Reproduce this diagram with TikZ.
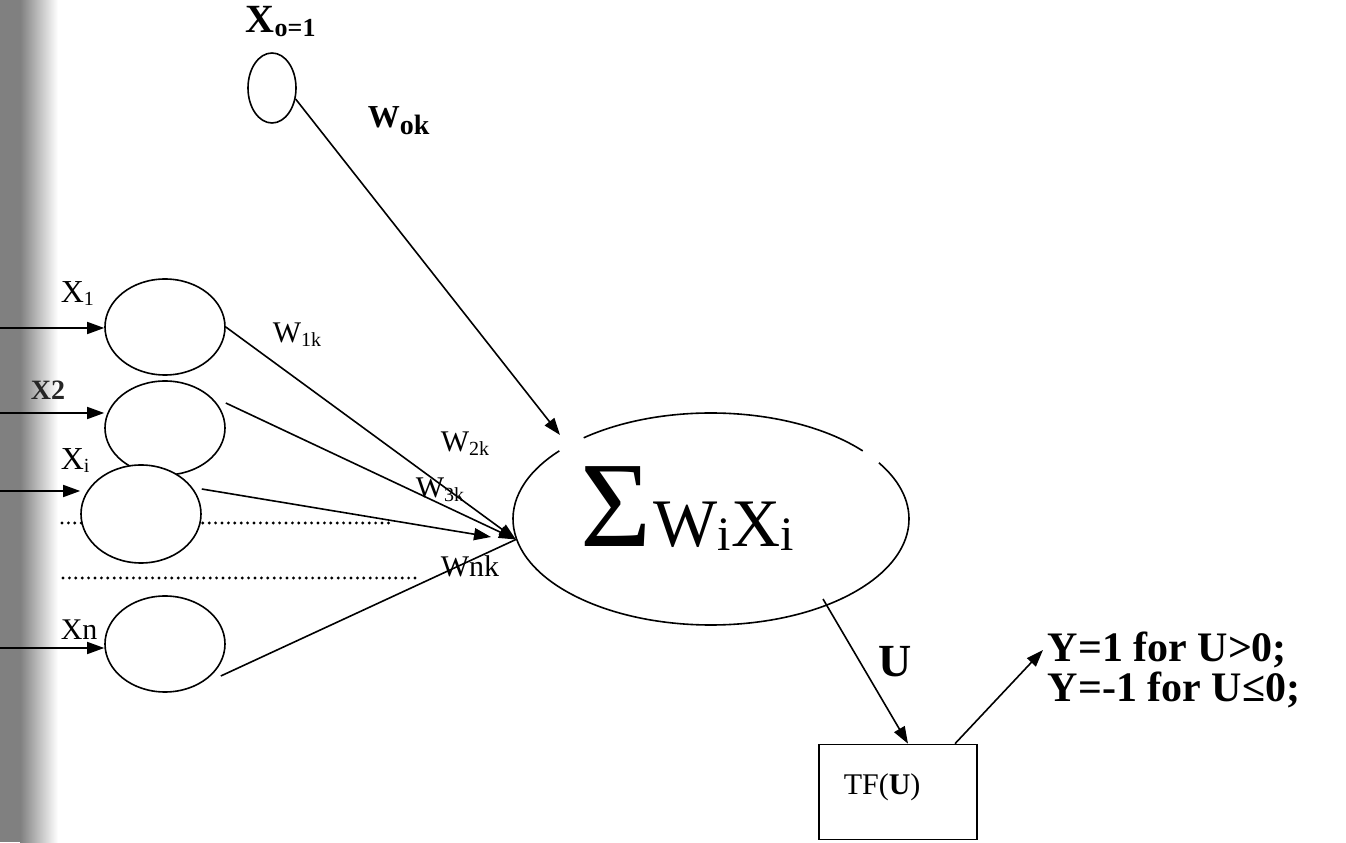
\documentclass[tikz,border=0pt]{standalone}
\usepackage{fontspec}
\setmainfont{Liberation Serif}
\usetikzlibrary{arrows.meta,shapes.geometric,calc}
\newcommand\mysub[3]{\raisebox{-#3}{\fontsize{#1}{#1}\selectfont #2}}
\begin{document}
\begin{tikzpicture}[x=0.5pt,y=0.5pt,
  line width=0.8pt,
  neuron/.style={ellipse,draw,fill=white,minimum width=60pt,minimum height=48pt,inner sep=0pt},
  arr/.style={-{Triangle[length=8.5pt,width=6pt]}},
  dotline/.style={line width=1.6pt,dash pattern=on 0pt off 3.2pt,line cap=round},
  lbl/.style={inner sep=0pt,anchor=base west},
]
\useasboundingbox (0,0) rectangle (1346,842);
% scanned left strip
\fill[black!50] (0,0) rectangle (20,842);
\shade[left color=black!50,right color=white] (20,0) rectangle (58,842);

% dotted separators
\coordinate (d1a) at (62,319); \coordinate (d1b) at (393,319);
\coordinate (d2a) at (63,264); \coordinate (d2b) at (415,264);
\draw[dotline] (d1a) -- (d1b);
\draw[dotline] (d2a) -- (d2b);

% nodes
\node[ellipse,draw,minimum width=24pt,minimum height=35pt,inner sep=0pt] (x0) at (272,754) {};
\node[neuron] (e1) at (165,515) {};
\node[neuron,minimum height=47pt] (e2) at (165,414) {};
\node[neuron,minimum height=49pt] (ei) at (141,328) {};
\node[neuron] (en) at (165,198) {};
\node[ellipse,minimum width=198pt,minimum height=106pt,inner sep=0pt] (sum) at (711,323) {};
\draw ($(sum.center)+(40:99pt and 53pt)$) arc[start angle=40,end angle=130,x radius=99pt,y radius=53pt];
\draw ($(sum.center)+(140:99pt and 53pt)$) arc[start angle=140,end angle=392,x radius=99pt,y radius=53pt];
\node[lbl] (sumtxt) at (580,295) {{\fontsize{61}{61}\selectfont Σ}\hspace{1pt}{\fontsize{34}{34}\selectfont W\mysub{24}{i}{2pt}X\mysub{24}{i}{2pt}}};
\node[draw,minimum width=79pt,minimum height=47.5pt,inner sep=0pt] (tf) at (898,50) {};
\node[lbl] (tft) at (843,47) {\fontsize{15}{15}\selectfont TF(\textbf{U})};

% input arrows
\coordinate (in1) at (0,514);
\coordinate (in2) at (0,429);
\coordinate (in3) at (0,351);
\coordinate (in4) at (0,194);
\draw[arr] (in1) -- (in1 -| e1.west);
\draw[arr] (in2) -- (in2 -| e2.west);
\draw[arr] (in3) -- (in3 -| ei.west);
\draw[arr] (in4) -- (in4 -| en.west);

% input labels
\node[lbl] (lx0) at (245,809) {\bfseries\fontsize{20}{20}\selectfont X\mysub{13}{o=1}{2pt}};
\node[lbl] (lx1) at (60,539) {\fontsize{16}{16}\selectfont X\mysub{10}{1}{1.5pt}};
\node[lbl,text=black!85] (lx2) at (30,442) {\bfseries\fontsize{14}{14}\selectfont X2};
\node[lbl] (lxi) at (60,372) {\fontsize{16}{16}\selectfont X\mysub{10}{i}{1.5pt}};
\node[lbl] (lxn) at (60,202) {\fontsize{15}{15}\selectfont Xn};

% weights
\coordinate (hub2) at (491,305);
\coordinate (xin) at (560,407);
\draw[arr] (x0.-25) -- (xin);
\draw[arr] (e1.east) -- (sum.186);
\draw[arr] ([yshift=12.5pt]e2.east) -- (sum.186);
\draw[arr] ([yshift=12.5pt]ei.east) -- (hub2);
\draw ([shift={(-2.5pt,-16pt)}]en.east) -- (sum.186);

\node[lbl] (wok) at (367,714) {\bfseries\fontsize{16}{16}\selectfont W\mysub{14}{ok}{3.5pt}};
\node[lbl] (w1k) at (272,499) {\fontsize{15}{15}\selectfont W\mysub{10}{1k}{2pt}};
\node[lbl] (w2k) at (440,390) {\fontsize{15}{15}\selectfont W\mysub{10}{2k}{2pt}};
\node[lbl] (w3k) at (415,344) {\fontsize{15}{15}\selectfont W\mysub{10}{3k}{2pt}};
\node[lbl] (wnk) at (440,265) {\fontsize{15}{15}\selectfont Wnk};

% output
\coordinate (uout) at (823,243);
\draw[arr] (uout) -- ([xshift=5pt]tf.north);
\node[inner sep=0pt,font=\bfseries\fontsize{23}{23}\selectfont] (ulbl) at (895,180) {U};
\coordinate (ytip) at (1043,192);
\draw[arr] ([xshift=28.5pt]tf.north) -- (ytip);
\node[anchor=north west,inner sep=0pt,align=left,font=\bfseries\fontsize{21}{20}\selectfont] (yout) at (1047,211) {Y=1 for U>0;\\Y=-1 for U≤0;};
\end{tikzpicture}
\end{document}
